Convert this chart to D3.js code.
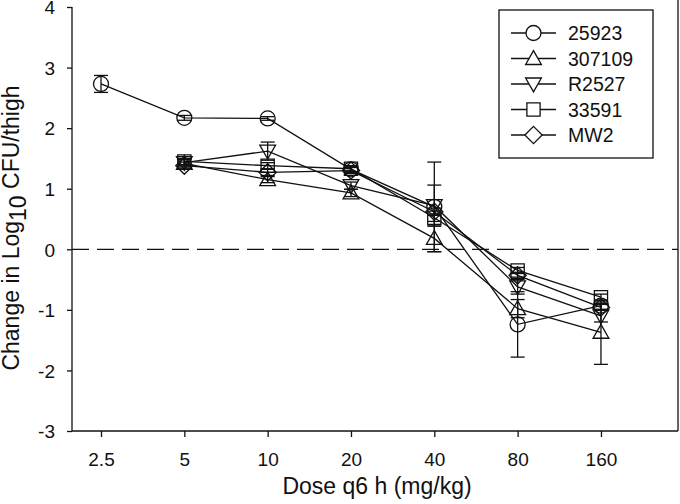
<!DOCTYPE html>
<html><head><meta charset="utf-8">
<script src="https://cdn.jsdelivr.net/npm/d3@7"></script>
<style>body{margin:0;background:#fff}svg{display:block}text{font-family:"Liberation Sans",Arial,sans-serif;fill:#111}</style>
</head><body><svg id="c" width="680" height="504"></svg>
<script>
const doses = [2.5, 5, 10, 20, 40, 80, 160];
const doseLabels = ["2.5","5","10","20","40","80","160"];
const seriesNames = ["25923","307109","R2527","33591","MW2"];
const s25923 = [2.73, 2.17, 2.16, 1.32, 0.70, -1.24, -0.93];
const e25923 = [0.14, 0.04, 0.03, 0.05, 0.74, 0.54, 0.06];
const s307109 = [null, 1.42, 1.15, 0.93, 0.18, -0.98, -1.37];
const e307109 = [null, 0.06, 0.05, 0.06, 0.22, 0.15, 0.53];
const sR2527 = [null, 1.43, 1.62, 1.05, 0.72, -0.62, -1.10];
const eR2527 = [null, 0.05, 0.15, 0.06, 0.34, 0.12, 0.10];
const s33591 = [null, 1.45, 1.38, 1.33, 0.52, -0.35, -0.79];
const e33591 = [null, 0.05, 0.05, 0.05, 0.06, 0.05, 0.05];
const sMW2 = [null, 1.38, 1.27, 1.30, 0.62, -0.43, -0.96];
const eMW2 = [null, 0.06, 0.05, 0.05, 0.06, 0.05, 0.05];
const yTicks = [-3,-2,-1,0,1,2,3,4];

const series = [
  {name:"25923", vals:s25923, errs:e25923, sym:"circle"},
  {name:"307109", vals:s307109, errs:e307109, sym:"up"},
  {name:"R2527", vals:sR2527, errs:eR2527, sym:"down"},
  {name:"33591", vals:s33591, errs:e33591, sym:"square"},
  {name:"MW2", vals:sMW2, errs:eMW2, sym:"diamond"}
];

const svg = d3.select("#c");
const L=72, R=678, T=7, B=431;
const x = d3.scaleLog().base(2).domain([1.964, 303.7]).range([L,R]);
const y = d3.scaleLinear().domain([-3,4]).range([B,T]);

function symPath(sym, s){
  const h=s/2;
  switch(sym){
    case "circle": return `M${-h},0a${h},${h} 0 1,0 ${s},0a${h},${h} 0 1,0 ${-s},0Z`;
    case "up": return `M0,${-h*1.05}L${h*1.05},${h*0.8}L${-h*1.05},${h*0.8}Z`;
    case "down": return `M0,${h*1.05}L${h*1.05},${-h*0.8}L${-h*1.05},${-h*0.8}Z`;
    case "square": return `M${-h*0.88},${-h*0.88}H${h*0.88}V${h*0.88}H${-h*0.88}Z`;
    case "diamond": return `M0,${-h*1.15}L${h*1.15},0L0,${h*1.15}L${-h*1.15},0Z`;
  }
}

// zero dashed line
svg.append("line").attr("x1",L).attr("x2",R).attr("y1",y(0)).attr("y2",y(0))
  .attr("stroke","#111").attr("stroke-width",1.3).attr("stroke-dasharray","17,8");

// axes
const yAxis = d3.axisLeft(y).tickValues(yTicks).tickSize(5).tickPadding(12).tickFormat(d=>String(d));
const gy = svg.append("g").attr("transform",`translate(${L},0)`).call(yAxis);
const xAxis = d3.axisBottom(x).tickValues(doses).tickSize(6).tickPadding(16).tickFormat((d,i)=>doseLabels[i]);
const gx = svg.append("g").attr("transform",`translate(0,${B})`).call(xAxis);
[gx,gy].forEach(g=>{
  g.select(".domain").attr("stroke","#111").attr("stroke-width",1.3);
  g.selectAll(".tick line").attr("stroke","#111").attr("stroke-width",1.3);
  g.selectAll(".tick text").style("font-size","19px").style("font-family","Liberation Sans, Arial, sans-serif").attr("fill","#111");
});
gy.select(".domain").attr("d",`M0,${B}V${T}`);
gy.selectAll(".tick text").attr("dy","0.36em");
gx.select(".domain").attr("d",`M${L},0H${R}`);
// right frame
svg.append("line").attr("x1",R).attr("x2",R).attr("y1",0).attr("y2",B).attr("stroke","#111").attr("stroke-width",1.3);

// axis titles
svg.append("text").attr("x",377).attr("y",494).attr("text-anchor","middle")
  .style("font-size","23px").text("Dose q6 h (mg/kg)");
const yt = svg.append("text").attr("transform",`translate(19,228) rotate(-90)`).attr("text-anchor","middle").style("font-size","23px");
yt.append("tspan").text("Change in Log");
yt.append("tspan").attr("dy",7).text("10");
yt.append("tspan").attr("dy",-7).text(" CFU/thigh");

// series
const line = d3.line().defined(d=>d.v!=null).x(d=>x(d.d)).y(d=>y(d.v));
series.forEach(s=>{
  const pts = doses.map((d,i)=>({d, v:s.vals[i], e:s.errs[i]}));
  svg.append("path").datum(pts).attr("d",line).attr("fill","none").attr("stroke","#111").attr("stroke-width",1.3);
});
series.forEach(s=>{
  const pts = doses.map((d,i)=>({d, v:s.vals[i], e:s.errs[i]})).filter(p=>p.v!=null);
  const g = svg.append("g");
  pts.forEach(p=>{
    const cx=x(p.d), y1=y(p.v+p.e), y2=y(p.v-p.e);
    g.append("line").attr("x1",cx).attr("x2",cx).attr("y1",y1).attr("y2",y2).attr("stroke","#111").attr("stroke-width",1.3);
    [y1,y2].forEach(yy=>g.append("line").attr("x1",cx-7).attr("x2",cx+7).attr("y1",yy).attr("y2",yy).attr("stroke","#111").attr("stroke-width",1.3));
    g.append("path").attr("d",symPath(s.sym,15)).attr("transform",`translate(${cx},${y(p.v)})`)
      .attr("fill","none").attr("stroke","#111").attr("stroke-width",1.3);
  });
});

// legend
const lg = svg.append("g");
lg.append("rect").attr("x",499).attr("y",10).attr("width",154).attr("height",148).attr("fill","#fff").attr("stroke","#111").attr("stroke-width",1.3);
seriesNames.forEach((n,i)=>{
  const s = series[i];
  const yy = 33 + i*25.5;
  lg.append("line").attr("x1",511).attr("x2",556).attr("y1",yy).attr("y2",yy).attr("stroke","#111").attr("stroke-width",1.3);
  lg.append("path").attr("d",symPath(s.sym,15)).attr("transform",`translate(533.5,${yy})`).attr("fill","#fff").attr("stroke","#111").attr("stroke-width",1.3);
  lg.append("text").attr("x",568).attr("y",yy).attr("dy","0.36em").style("font-size","19.5px").text(n);
});
</script></body></html>
